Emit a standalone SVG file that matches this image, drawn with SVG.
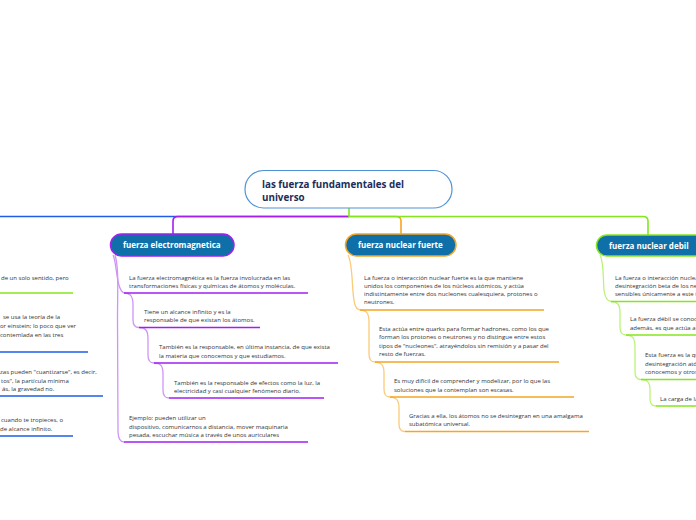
<svg xmlns="http://www.w3.org/2000/svg" width="696" height="520" viewBox="0 0 696 520">
<style>
text{font-family:"Open Sans","Noto Sans","DejaVu Sans",sans-serif}
.t{font-size:6px;fill:#333}
.nl{font-size:8px;font-weight:700;fill:#fff}
.ct{font-size:9.8px;font-weight:700;fill:#1e2d5a}
.node{fill:#0f6fa9;stroke-width:1.5}
.mp{stroke:#a21ff0;fill:none;stroke-width:1.6}
.mo{stroke:#f5a623;fill:none;stroke-width:1.6}
.mg{stroke:#85e61e;fill:none;stroke-width:1.6}
.mb{stroke:#1c5ee8;fill:none;stroke-width:1.6}
.lp{stroke:#cf95f6;fill:none;stroke-width:1.3}
.lo{stroke:#fccb78;fill:none;stroke-width:1.3}
.lg{stroke:#bdf27a;fill:none;stroke-width:1.3}
</style>
<g id="connectors">
<path class="mb" d="M-5,216.5 H349"/>
<path class="mo" d="M349,216.5 H396 Q401,216.5 401,221 V234"/>
<path class="mp" d="M349,216.5 H178 Q173,216.5 173,221 V234"/>
<path class="mg" d="M349,208 V216.5 H643 Q648,216.5 648,221 V235"/>
<path class="lp" d="M113,255 C117,262 116,290 124,293"/>
<path class="lp" d="M115,255 C119,268 117.5,290 117.5,320 L118,432 Q118.5,442 124,442"/>
<path class="lp" d="M124,293 C131,293 133,297 133,305 L133,320 C133,325 135,327.5 139,327.5"/>
<path class="lp" d="M139,327.5 C146,327.5 148,331 148,339 L148,355 C148,360 150,363 154,363"/>
<path class="lp" d="M154,363 C161,363 163,366.5 163,374 L163,390 C163,395 165,398 169,398"/>
<path class="lo" d="M348,255 C352,262 352,280 353,292 C354,303 355,309 360,310"/>
<path class="lo" d="M360,310 C367,310 369,314 369,322 L369,354 C369,359 371,362 375,362"/>
<path class="lo" d="M375,362 C382,362 384,366 384,373 L384,389 C384,394 386,397 390,397"/>
<path class="lo" d="M390,397 C397,397 399,401 399,408 L399,424 C399,429 401,431.5 405,431.5"/>
<path class="lg" d="M600,255 C604,262 603,280 604,290 C605,298 607,301 611,301.5"/>
<path class="lg" d="M611,301.5 C618,301.5 620,305 620,313 L620,327 C620,332 622,335 626,335"/>
<path class="lg" d="M626,335 C633,335 635,339 635,347 L635,372 C635,377 637,379.5 641,379.5"/>
<path class="lg" d="M641,379.5 C648,379.5 650,383 650,390 L650,399 C650,403 652,406 656,406"/>
</g>
<g id="center">
<rect x="245" y="170.5" width="207" height="37.5" rx="18.5" fill="#fff" stroke="#4f93d6" stroke-width="1.2"/>
<text class="ct" x="262" y="187.5">las fuerza fundamentales del</text>
<text class="ct" x="262" y="201">universo</text>
</g>
<g id="electromagnetica">
<rect class="node" x="110.5" y="234" width="123.5" height="22" rx="11" stroke="#a21ff0"/>
<text class="nl" x="123" y="248">fuerza electromagnetica</text>
</g>
<g id="fuerte">
<rect class="node" x="345.5" y="234" width="110.5" height="22" rx="11" stroke="#f5a623"/>
<text class="nl" x="358" y="248">fuerza nuclear fuerte</text>
</g>
<g id="debil">
<rect class="node" x="596.5" y="235" width="112" height="21" rx="10.5" stroke="#85e61e"/>
<text class="nl" x="609" y="248.5">fuerza nuclear debil</text>
</g>
<g id="em1">
<text class="t" x="129" y="280">La fuerza electromagnética es la fuerza involucrada en las</text>
<text class="t" x="129" y="288">transformaciones físicas y químicas de átomos y moléculas.</text>
<path class="mp" d="M124,293 H308"/>
</g>
<g id="em2">
<text class="t" x="144" y="314">Tiene un alcance infinito y es la</text>
<text class="t" x="144" y="322">responsable de que existan los átomos.</text>
<path class="mp" d="M139,327.5 H260"/>
</g>
<g id="em3">
<text class="t" x="159" y="349">También es la responsable, en última instancia, de que exista</text>
<text class="t" x="159" y="357.5">la materia que conocemos y que estudiamos.</text>
<path class="mp" d="M154,363 H338"/>
</g>
<g id="em4">
<text class="t" x="174" y="384.5">También es la responsable de efectos como la luz, la</text>
<text class="t" x="174" y="392.5">electricidad y casi cualquier fenómeno diario.</text>
<path class="mp" d="M169,398 H324"/>
</g>
<g id="em5">
<text class="t" x="129" y="420">Ejemplo: pueden utilizar un</text>
<text class="t" x="129" y="428.5">dispositivo, comunicarnos a distancia, mover maquinaria</text>
<text class="t" x="129" y="437">pesada, escuchar música a través de unos auriculares</text>
<path class="mp" d="M124,442 H308"/>
</g>
<g id="nf1">
<text class="t" x="364" y="279.5">La fuerza o interacción nuclear fuerte es la que mantiene</text>
<text class="t" x="364" y="287.5">unidos los componentes de los núcleos atómicos, y actúa</text>
<text class="t" x="364" y="295.5">indistintamente entre dos nucleones cualesquiera, protones o</text>
<text class="t" x="364" y="304">neutrones.</text>
<path class="mo" d="M360,310 H544"/>
</g>
<g id="nf2">
<text class="t" x="379" y="330.5">Esta actúa entre quarks para formar hadrones, como los que</text>
<text class="t" x="379" y="339">forman los protones o neutrones y no distingue entre estos</text>
<text class="t" x="379" y="347.5">tipos de "nucleones", atrayéndolos sin remisión y a pasar del</text>
<text class="t" x="379" y="356">resto de fuerzas.</text>
<path class="mo" d="M375,362 H559"/>
</g>
<g id="nf3">
<text class="t" x="394" y="383">Es muy difícil de comprender y modelizar, por lo que las</text>
<text class="t" x="394" y="391.5">soluciones que la contemplan son escasas.</text>
<path class="mo" d="M390,397 H574"/>
</g>
<g id="nf4">
<text class="t" x="409" y="418">Gracias a ella, los átomos no se desintegran en una amalgama</text>
<text class="t" x="409" y="426">subatómica universal.</text>
<path class="mo" d="M405,431.5 H589"/>
</g>
<g id="nd1">
<text class="t" x="615" y="279.5">La fuerza o interacción nuclear débil es la responsable de la</text>
<text class="t" x="615" y="287.5">desintegración beta de los neutrones; los neutrinos son</text>
<text class="t" x="615" y="296">sensibles únicamente a este tipo de interacción.</text>
<path class="mg" d="M611,301.5 H700"/>
</g>
<g id="nd2">
<text class="t" x="630" y="321">La fuerza débil se conoce así por su intensidad;</text>
<text class="t" x="630" y="329.5">además, es que actúa a distancias muy cortas.</text>
<path class="mg" d="M626,335 H700"/>
</g>
<g id="nd3">
<text class="t" x="645" y="357">Esta fuerza es la que provoca la</text>
<text class="t" x="645" y="365.5">desintegración atómica de la materia que</text>
<text class="t" x="645" y="374">conocemos y otros fenómenos.</text>
<path class="mg" d="M641,379.5 H700"/>
</g>
<g id="nd4">
<text class="t" x="660" y="401">La carga de la fuerza débil</text>
<path class="mg" d="M656,406 H700"/>
</g>
<g id="left1">
<text class="t" x="1" y="279.5">de un solo sentido, pero</text>
<path class="mg" d="M-5,293 H73"/>
</g>
<g id="left2">
<text class="t" x="3" y="319">se usa la teoría de la</text>
<text class="t" x="0" y="328">or einstein; lo poco que ver</text>
<text class="t" x="0" y="337">contemlada en las tres</text>
<path class="mb" d="M-5,352 H88"/>
</g>
<g id="left3">
<text class="t" x="0" y="374">zas pueden "cuantizarse", es decir,</text>
<text class="t" x="1" y="382.5">tos", la partícula mínima</text>
<text class="t" x="2" y="391">ás, la gravedad no.</text>
<path class="mb" d="M-5,396 H103"/>
</g>
<g id="left4">
<text class="t" x="1" y="422">cuando te tropieces, o</text>
<text class="t" x="0" y="431">de alcance infinito.</text>
<path class="mb" d="M-5,436 H73"/>
</g>
</svg>
